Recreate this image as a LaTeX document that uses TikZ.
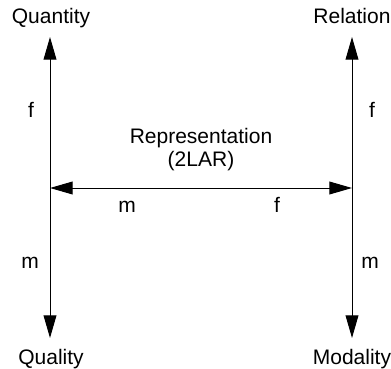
\documentclass[tikz,border=0pt]{standalone}
\usepackage{fontspec}
\setmainfont{Liberation Sans}
\usepackage{tikz}
\usetikzlibrary{arrows.meta, positioning}

\begin{document}
\begin{tikzpicture}[x=0.5pt, y=-0.5pt,
  lbl/.style={font=\fontsize{10.5}{11.5}\selectfont, inner sep=0pt, anchor=base},
  dimarrow/.style={draw=black, line width=0.5pt, -{Triangle[length=11.3pt, width=6.4pt]}}
]
  \useasboundingbox (0,0) rectangle (391,369);

  % axis ends
  \coordinate (lmid) at (50,188);
  \coordinate (rmid) at (352,188);
  \coordinate (ltop) at (50,37);
  \coordinate (lbot) at (50,338);
  \coordinate (rtop) at (352,37);
  \coordinate (rbot) at (352,338);

  % corner labels
  \node[lbl] (quantity) at (51,24) {Quantity};
  \node[lbl] (relation) at (352,24) {Relation};
  \node[lbl] (quality) at (51,364) {Quality};
  \node[lbl] (modality) at (352,364) {Modality};

  \node[lbl, anchor=north, align=center] (repr) at (201,128) {Representation\\(2LAR)};

  % small labels
  \node[lbl] (lf) at (31,118) {f};
  \node[lbl] (lm) at (30,268) {m};
  \node[lbl] (rf) at (372,118) {f};
  \node[lbl] (rm) at (370,268) {m};
  \node[lbl] (hm) at (127,213) {m};
  \node[lbl] (hf) at (277,213) {f};

  \draw[dimarrow] (lmid) -- (ltop);
  \draw[dimarrow] (lmid) -- (lbot);
  \draw[dimarrow] (rmid) -- (rtop);
  \draw[dimarrow] (rmid) -- (rbot);
  \draw[dimarrow, {Triangle[length=11.3pt, width=6.4pt]}-{Triangle[length=11.3pt, width=6.4pt]}] (lmid) -- (rmid);
\end{tikzpicture}
\end{document}
